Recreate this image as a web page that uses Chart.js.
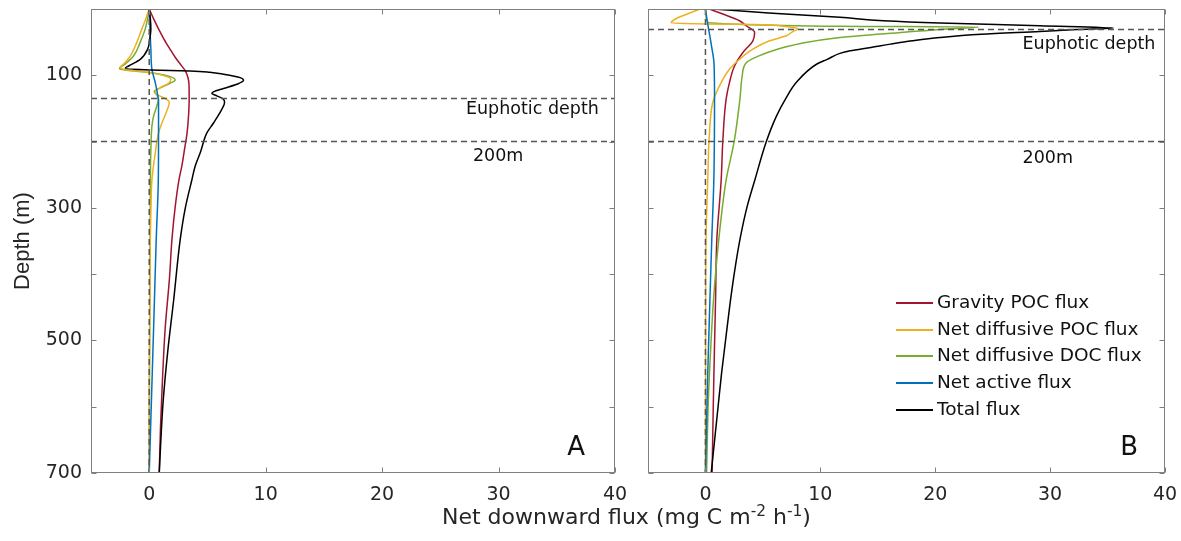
<!DOCTYPE html>
<html>
<head>
<meta charset="utf-8">
<title>Net downward flux</title>
<script src="https://cdn.jsdelivr.net/npm/chart.js@4.4.1/dist/chart.umd.min.js"></script>
<style>
	body { margin: 0; background: #fff; width: 1181px; height: 541px; overflow: hidden; position: relative; font-family: 'DejaVu Sans', sans-serif; color: #262626; }
	#boxA { position: absolute; left: 0; top: 0; width: 640px; height: 541px; }
	#boxB { position: absolute; left: 640px; top: 0; width: 541px; height: 541px; }
	#xTitle { position: absolute; left: 442px; top: 504px; font-size: 22px; line-height: 25px; white-space: nowrap; }
	#xTitle sup { font-size: 0.7em; line-height: 0; vertical-align: 0.55em; }
</style>
</head>
<body>
<div id="boxA"><canvas id="chartA" width="640" height="541"></canvas></div>
<div id="boxB"><canvas id="chartB" width="541" height="541"></canvas></div>
<div id="xTitle">Net downward flux (mg C m<sup>-2</sup> h<sup>-1</sup>)</div>
<script>
	// axes
	var fluxMin = -5, fluxMax = 40;
	var depthMin = 0, depthMax = 700;
	var fluxTicks = [0, 10, 20, 30, 40];
	var depthTicks = [0, 100, 200, 300, 400, 500, 600, 700];
	var depthLabels = ['', '100', '', '300', '', '500', '', '700'];

	// reference depths (m)
	var euphoticA = 135;
	var euphoticB = 31;
	var depth200 = 200;

	var seriesNames = ['Gravity POC flux', 'Net diffusive POC flux', 'Net diffusive DOC flux', 'Net active flux', 'Total flux'];
	var seriesColors = ['#A2142F', '#EDB120', '#77AC30', '#0072BD', '#000000'];
	var seriesOrder = [5, 3, 4, 2, 1]; // lower number is drawn on top

	// ---- panel A ----
	var gravityA_depth = [0, 15, 30, 45, 61, 72, 83, 93, 103, 115, 136, 160, 187, 215, 237, 258, 300, 348, 406, 482, 558, 630, 700];
	var gravityA_flux  = [0, 0.38, 0.8, 1.25, 1.8, 2.2, 2.66, 3.09, 3.32, 3.42, 3.43, 3.38, 3.25, 3.0, 2.8, 2.55, 2.22, 1.95, 1.74, 1.37, 1.14, 0.97, 0.86];

	var diffPocA_depth = [0, 15, 30, 50, 71, 83, 88, 91, 96, 102, 106, 112, 119, 124, 129, 135, 141, 151, 172, 187, 217, 258, 300, 348, 450, 550, 700];
	var diffPocA_flux  = [0, -0.3, -0.63, -1.06, -1.63, -2.2, -2.49, -2.2, 0.09, 1.52, 1.86, 1.66, 0.94, 0.52, 0.66, 1.37, 1.72, 1.57, 1.09, 0.8, 0.52, 0.23, 0.15, 0.09, 0.05, 0.02, 0];

	var diffDocA_depth = [0, 15, 30, 50, 71, 83, 90, 92.5, 96, 102, 107, 112, 119, 124, 130, 136, 146, 162, 177, 212, 258, 348, 450, 550, 700];
	var diffDocA_flux  = [0, -0.15, -0.34, -0.77, -1.35, -2.06, -2.55, -1.92, 0.09, 1.8, 2.23, 1.8, 0.94, 0.43, 0.66, 0.8, 0.66, 0.37, 0.23, 0.14, 0.1, 0.08, 0.05, 0.02, 0];

	var activeA_depth = [0, 30, 60, 91, 111, 131, 140, 187, 258, 348, 450, 550, 700];
	var activeA_flux  = [0, 0.06, 0.14, 0.23, 0.52, 0.74, 0.8, 0.8, 0.78, 0.6, 0.43, 0.26, 0];

	var totalA_depth = [0, 15, 30, 45, 61, 76, 86, 89.5, 92, 93.5, 95.5, 98.5, 103.5, 107.6, 113.6, 120, 125, 127.5, 131, 136, 141, 151, 172, 187, 217, 237, 258, 300, 348, 439, 515, 591, 650, 700];
	var totalA_flux  = [0, 0.1, 0.14, 0.05, -0.14, -0.77, -1.77, -2.06, 0.09, 3.52, 5.2, 6.38, 7.81, 8.1, 7.52, 6.38, 5.52, 5.38, 5.81, 6.38, 6.47, 6.24, 5.52, 4.95, 4.38, 3.95, 3.66, 3.1, 2.66, 2.1, 1.6, 1.2, 1.0, 0.86];

	// ---- panel B ----
	var gravityB_depth = [0, 7.6, 17.7, 25.3, 35.4, 48, 65.6, 86, 111, 136, 200, 258, 348, 439, 515, 600, 700];
	var gravityB_flux  = [0.35, 1.51, 2.97, 3.55, 4.28, 4.13, 3.26, 2.53, 2.09, 1.8, 1.51, 1.37, 0.99, 0.88, 0.78, 0.68, 0.58];

	var diffPocB_depth = [0, 21.2, 22.6, 23.5, 25.5, 28, 30.3, 34, 40.4, 48, 60.6, 75.8, 90.9, 116, 141, 187, 258, 348, 450, 550, 700];
	var diffPocB_flux  = [-0.52, -2.99, 0.06, 4.4, 6.6, 7.7, 8.05, 7.6, 7.04, 5.58, 4.13, 2.97, 2.09, 1.22, 0.64, 0.35, 0.2, 0.05, 0.02, 0.01, 0];

	var diffDocB_depth = [0, 10, 20, 22.5, 24.5, 26, 27.3, 30, 35, 43, 52, 61, 71, 81, 101, 136, 200, 258, 348, 439, 515, 591, 700];
	var diffDocB_flux  = [0, 0.05, 0.2, 2, 6, 11.7, 23.8, 21, 17.3, 11.7, 8.3, 6.2, 4.6, 3.55, 3.2, 3.0, 2.5, 1.8, 1.16, 0.7, 0.45, 0.25, 0.1];

	var activeB_depth = [0, 22.7, 53, 83, 136, 258, 348, 450, 550, 700];
	var activeB_flux  = [0, 0.2, 0.5, 0.75, 0.79, 0.73, 0.55, 0.37, 0.2, 0];

	var totalB_depth = [0, 6, 12.6, 17.7, 21.2, 25.3, 28.8, 31, 33.8, 38, 43, 48, 53, 58, 63, 67, 76, 83, 111, 135, 162, 200, 258, 300, 348, 400, 450, 500, 550, 600, 650, 700];
	var totalB_flux  = [0.64, 5.5, 11.7, 15.5, 20.4, 29.1, 35.5, 32.3, 29.1, 24, 20.4, 18, 16.1, 14.4, 12.6, 11.7, 10.6, 9.7, 7.9, 7.0, 6.17, 5.3, 4.3, 3.6, 3.0, 2.5, 2.1, 1.75, 1.4, 1.1, 0.8, 0.5];

	Chart.defaults.font.family = "'DejaVu Sans', sans-serif";
	Chart.defaults.color = '#262626';

	function toPoints(depth, flux) {
		var pts = [];
		for (var i = 0; i < depth.length; i++) {
			pts.push({x: flux[i], y: depth[i]});
		}
		return pts;
	}

	function curve(k, depth, flux) {
		return {
			label: seriesNames[k],
			data: toPoints(depth, flux),
			borderColor: seriesColors[k],
			backgroundColor: seriesColors[k],
			borderWidth: 1.5,
			pointRadius: 0,
			cubicInterpolationMode: 'monotone',
			order: seriesOrder[k]
		};
	}

	// gray dashed guide lines
	function refLine(depth, flux) {
		return {
			label: '',
			data: toPoints(depth, flux),
			borderColor: '#555555',
			borderWidth: 1.5,
			borderDash: [6, 4],
			pointRadius: 0,
			tension: 0,
			order: 0
		};
	}

	// matlab style box with inward ticks on all four sides
	var boxPlugin = {
		id: 'box',
		afterDatasetsDraw: function(chart) {
			var ctx = chart.ctx, a = chart.chartArea;
			var xs = chart.scales.x, ys = chart.scales.y;
			var L = Math.round(a.left) + 0.5, R = Math.round(a.right) - 0.5;
			var T = Math.round(a.top) + 0.5, B = Math.round(a.bottom) - 0.5;
			ctx.save();
			ctx.setLineDash([]);
			ctx.strokeStyle = '#808080';
			ctx.lineWidth = 1;
			ctx.strokeRect(L, T, R - L, B - T);
			ctx.beginPath();
			xs.ticks.forEach(function(t) {
				var px = Math.round(xs.getPixelForValue(t.value)) + 0.5;
				ctx.moveTo(px, B); ctx.lineTo(px, B - 5);
				ctx.moveTo(px, T); ctx.lineTo(px, T + 5);
			});
			ys.ticks.forEach(function(t) {
				var py = Math.round(ys.getPixelForValue(t.value)) + 0.5;
				ctx.moveTo(L, py); ctx.lineTo(L + 5, py);
				ctx.moveTo(R, py); ctx.lineTo(R - 5, py);
			});
			ctx.stroke();
			ctx.restore();
		}
	};

	// text placed in data units
	var notesPlugin = {
		id: 'notes',
		afterDatasetsDraw: function(chart, args, opts) {
			var ctx = chart.ctx;
			var items = opts.items || [];
			ctx.save();
			ctx.fillStyle = '#111111';
			ctx.textAlign = 'left';
			ctx.textBaseline = 'middle';
			for (var i = 0; i < items.length; i++) {
				var n = items[i];
				ctx.font = n.size + "px 'DejaVu Sans', sans-serif";
				ctx.fillText(n.text, chart.scales.x.getPixelForValue(n.x), chart.scales.y.getPixelForValue(n.y));
			}
			ctx.restore();
		}
	};

	// legend drawn inside the plot area
	var legendPlugin = {
		id: 'lineLegend',
		afterDatasetsDraw: function(chart, args, opts) {
			if (!opts.show) return;
			var ctx = chart.ctx;
			var x0 = Math.round(chart.scales.x.getPixelForValue(opts.x));
			var y0 = chart.scales.y.getPixelForValue(opts.y);
			ctx.save();
			ctx.font = opts.size + "px 'DejaVu Sans', sans-serif";
			ctx.textAlign = 'left';
			ctx.textBaseline = 'middle';
			for (var k = 0; k < seriesNames.length; k++) {
				var yy = Math.round(y0 + k * opts.gap);
				ctx.strokeStyle = seriesColors[k];
				ctx.lineWidth = 2;
				ctx.beginPath();
				ctx.moveTo(x0, yy);
				ctx.lineTo(x0 + opts.lineLen, yy);
				ctx.stroke();
				ctx.fillStyle = '#111111';
				ctx.fillText(seriesNames[k], x0 + opts.lineLen + 4, yy);
			}
			ctx.restore();
		}
	};

	function makeChart(canvasId, datasets, yWidth, padRight, showLabels, notes, showLegend) {
		return new Chart(document.getElementById(canvasId), {
			type: 'line',
			data: { datasets: datasets },
			options: {
				responsive: false,
				animation: false,
				indexAxis: 'y',
				layout: { padding: { top: 9, right: padRight, bottom: 0, left: 0 } },
				scales: {
					x: {
						type: 'linear',
						position: 'bottom',
						min: fluxMin,
						max: fluxMax,
						grid: { display: false, drawTicks: false },
						border: { display: false },
						ticks: {
							padding: 11,
							maxRotation: 0,
							autoSkip: false,
							font: { size: 19 },
							color: '#262626',
							callback: function(v) { return String(v); }
						},
						afterBuildTicks: function(s) {
							s.ticks = fluxTicks.map(function(v) { return {value: v}; });
						},
						afterFit: function(s) {
							s.height = 68;
							s.paddingLeft = 0;
							s.paddingRight = 0;
						}
					},
					y: {
						type: 'linear',
						position: 'left',
						reverse: true,
						min: depthMin,
						max: depthMax,
						grid: { display: false, drawTicks: false },
						border: { display: false },
						ticks: {
							padding: 9,
							autoSkip: false,
							font: { size: 19 },
							color: '#262626',
							callback: function(v) {
								return showLabels ? depthLabels[depthTicks.indexOf(v)] : '';
							}
						},
						title: {
							display: showLabels,
							text: 'Depth (m)',
							color: '#262626',
							font: { family: "'Liberation Sans', Arial, sans-serif", size: 22 },
							padding: { top: 10, bottom: 0 }
						},
						afterBuildTicks: function(s) {
							s.ticks = depthTicks.map(function(v) { return {value: v}; });
						},
						afterFit: function(s) {
							s.width = yWidth;
							s.paddingTop = 0;
							s.paddingBottom = 0;
						}
					}
				},
				plugins: {
					legend: { display: false },
					tooltip: { enabled: false },
					notes: { items: notes },
					lineLegend: { show: showLegend, x: 16.6, y: 443.5, gap: 26.7, lineLen: 37, size: 18.5 }
				}
			},
			plugins: [boxPlugin, notesPlugin, legendPlugin]
		});
	}

	var setsA = [
		curve(0, gravityA_depth, gravityA_flux),
		curve(1, diffPocA_depth, diffPocA_flux),
		curve(2, diffDocA_depth, diffDocA_flux),
		curve(3, activeA_depth, activeA_flux),
		curve(4, totalA_depth, totalA_flux),
		refLine([depthMin, depthMax], [0, 0]),
		refLine([euphoticA, euphoticA], [fluxMin, fluxMax]),
		refLine([depth200, depth200], [fluxMin, fluxMax])
	];

	var setsB = [
		curve(0, gravityB_depth, gravityB_flux),
		curve(1, diffPocB_depth, diffPocB_flux),
		curve(2, diffDocB_depth, diffDocB_flux),
		curve(3, activeB_depth, activeB_flux),
		curve(4, totalB_depth, totalB_flux),
		refLine([depthMin, depthMax], [0, 0]),
		refLine([euphoticB, euphoticB], [fluxMin, fluxMax]),
		refLine([depth200, depth200], [fluxMin, fluxMax])
	];

	var notesA = [
		{ text: 'Euphotic depth', x: 27.2, y: 151.5, size: 17.5 },
		{ text: '200m', x: 27.8, y: 223, size: 17.5 },
		{ text: 'A', x: 35.9, y: 663, size: 26 }
	];
	var notesB = [
		{ text: 'Euphotic depth', x: 27.6, y: 53.5, size: 17.5 },
		{ text: '200m', x: 27.6, y: 225, size: 17.5 },
		{ text: 'B', x: 36.1, y: 663, size: 26 }
	];

	makeChart('chartA', setsA, 91, 25, true, notesA, false);
	makeChart('chartB', setsB, 8, 16, false, notesB, true);
</script>
</body>
</html>
